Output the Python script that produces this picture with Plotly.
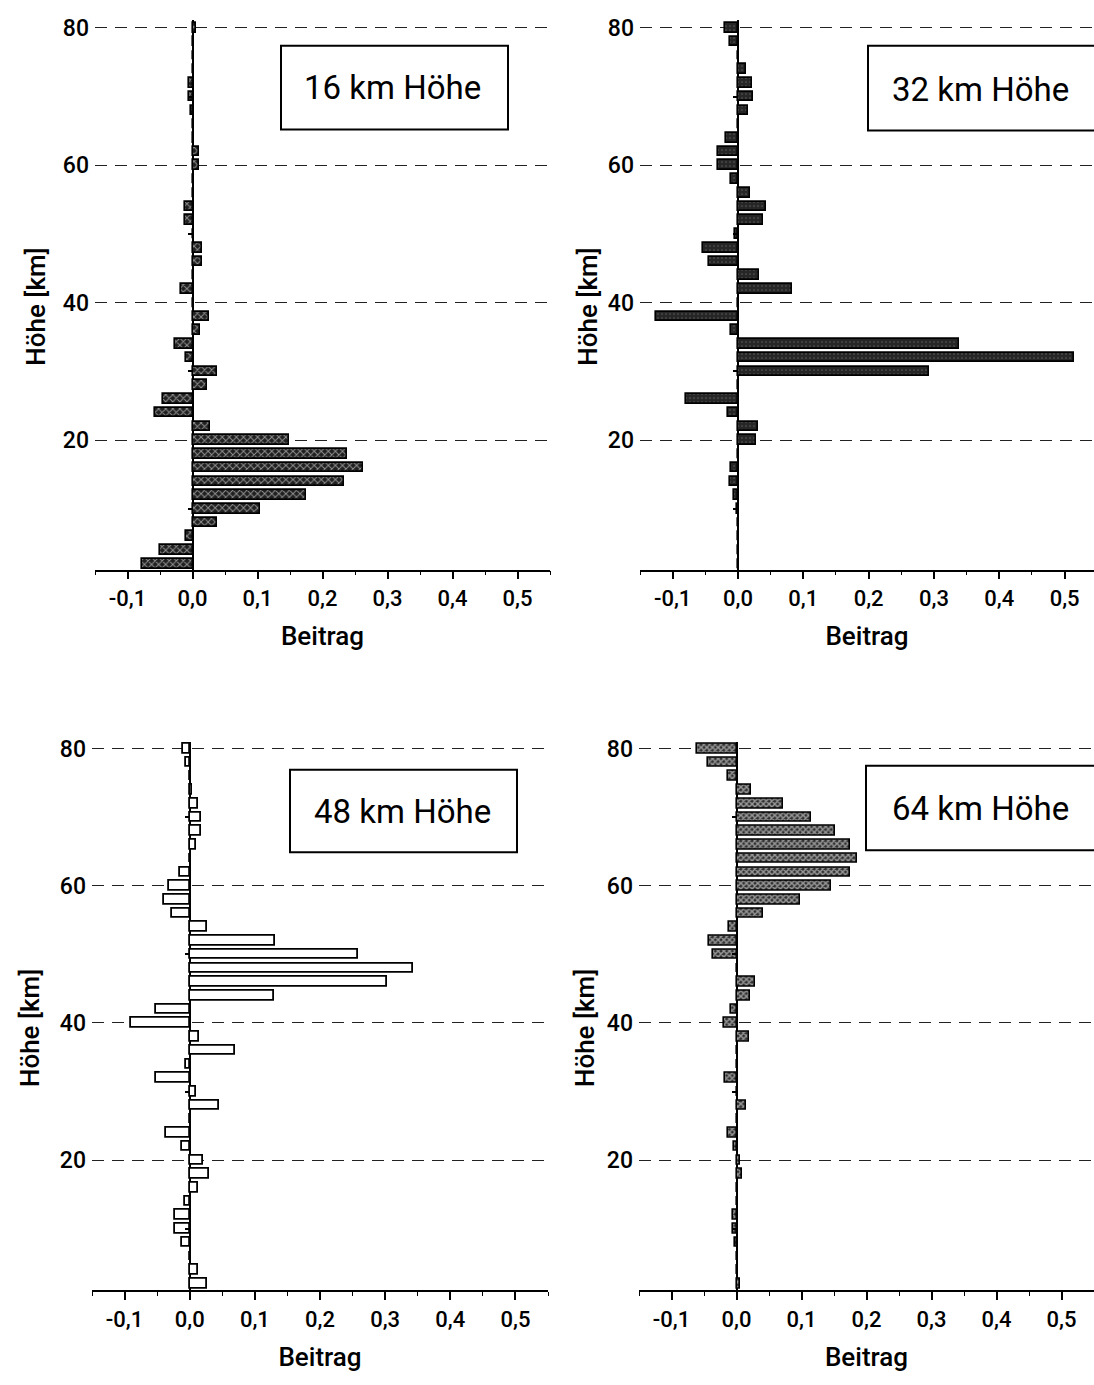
import plotly.graph_objects as go

heights_km = [2, 4, 6, 8, 10, 12, 14, 16, 18, 20, 22, 24, 26, 28, 30, 32, 34, 36, 38, 40,
              42, 44, 46, 48, 50, 52, 54, 56, 58, 60, 62, 64, 66, 68, 70, 72, 74, 76, 78, 80]

beitrag_16km = [-0.078, -0.050, -0.010, 0.038, 0.104, 0.174, 0.233, 0.262, 0.237, 0.149,
                0.027, -0.057, -0.046, 0.023, 0.038, -0.010, -0.027, 0.011, 0.026, 0.0,
                -0.018, 0.0, 0.014, 0.015, 0.0, -0.011, -0.011, 0.0, 0.0, 0.010,
                0.010, 0.003, 0.0, -0.003, -0.005, -0.005, 0.0, 0.0, 0.002, 0.005]

beitrag_32km = [0.0, 0.0, 0.0, 0.0, -0.002, -0.006, -0.012, -0.010, 0.0, 0.027,
                0.030, -0.015, -0.080, 0.0, 0.293, 0.514, 0.339, -0.011, -0.125, 0.0,
                0.083, 0.032, -0.044, -0.054, -0.004, 0.038, 0.043, 0.018, -0.010, -0.030,
                -0.030, -0.018, 0.0, 0.015, 0.023, 0.021, 0.012, 0.0, -0.012, -0.020]

beitrag_48km = [0.026, 0.013, 0.0, -0.012, -0.023, -0.022, -0.007, 0.013, 0.029, 0.021,
                -0.012, -0.036, 0.0, 0.045, 0.010, -0.051, -0.006, 0.069, 0.014, -0.090,
                -0.052, 0.130, 0.303, 0.343, 0.258, 0.131, 0.027, -0.027, -0.040, -0.032,
                -0.015, 0.0, 0.010, 0.018, 0.018, 0.013, 0.003, 0.0, -0.006, -0.011]

beitrag_64km = [0.006, 0.0, 0.0, -0.003, -0.005, -0.005, 0.0, 0.0, 0.008, 0.005,
                -0.004, -0.013, 0.0, 0.014, 0.0, -0.018, 0.0, 0.0, 0.019, -0.020,
                -0.008, 0.021, 0.028, 0.0, -0.036, -0.043, -0.012, 0.041, 0.098, 0.146,
                0.174, 0.185, 0.174, 0.151, 0.115, 0.072, 0.023, -0.013, -0.044, -0.0615]

panel_titles = ["16 km Höhe", "32 km Höhe", "48 km Höhe", "64 km Höhe"]
x_tickvals = [-0.1, 0.0, 0.1, 0.2, 0.3, 0.4, 0.5]
x_ticktext = ["-0,1", "0,0", "0,1", "0,2", "0,3", "0,4", "0,5"]
y_tickvals = [20, 40, 60, 80]
y_ticktext = ["20", "40", "60", "80"]
y_minor_tickvals = [10, 30, 50, 70]

FONT = "Roboto, Liberation Sans, Arial, sans-serif"
W, H = 1094, 1385

def px_x(p):
    return p / W

def px_y(p):
    return 1 - p / H

# panel geometry in pixels: (left, right, top, bottom), x-range, y-range
panels = [
    dict(l=95, r=550, t=14, b=566, xr=[-0.15, 0.55], yr=[1.15, 81.15]),
    dict(l=640, r=1094, t=14, b=566, xr=[-0.15, 0.545], yr=[1.15, 81.15]),
    dict(l=92, r=548, t=739, b=1290, xr=[-0.15, 0.55], yr=[1.0, 81.0]),
    dict(l=639, r=1094, t=739, b=1290, xr=[-0.15, 0.55], yr=[1.0, 81.0]),
]
ytitle_x = [36, 588, 30, 585]
series = [beitrag_16km, beitrag_32km, beitrag_48km, beitrag_64km]

markers = [
    dict(color="#2a2a2a", line=dict(color="black", width=1.6),
         pattern=dict(shape="x", bgcolor="#202020", fgcolor="#ffffff", size=5, solidity=0.35)),
    dict(color="#2a2a2a", line=dict(color="black", width=1.6),
         pattern=dict(shape=".", bgcolor="#262626", fgcolor="#8a8a8a", size=4, solidity=0.15)),
    dict(color="white", line=dict(color="black", width=1.8)),
    dict(color="#2a2a2a", line=dict(color="black", width=1.6),
         pattern=dict(shape="x", bgcolor="#303030", fgcolor="#ffffff", size=4, solidity=0.6)),
]

fig = go.Figure()
layout = dict(
    width=W, height=H, margin=dict(l=0, r=0, t=0, b=0),
    paper_bgcolor="white", plot_bgcolor="rgba(0,0,0,0)",
    showlegend=False, bargap=0,
    font=dict(family=FONT, color="black", size=22),
)
shapes = []
annotations = []

for i, (p, vals) in enumerate(zip(panels, series)):
    n = i + 1
    xa = "x" if n == 1 else f"x{n}"
    ya = "y" if n == 1 else f"y{n}"
    xkey = "xaxis" if n == 1 else f"xaxis{n}"
    ykey = "yaxis" if n == 1 else f"yaxis{n}"
    fig.add_trace(go.Bar(
        x=vals, y=heights_km, orientation="h", width=1.4,
        marker=markers[i], xaxis=xa, yaxis=ya, hoverinfo="skip"))
    xdom = [px_x(p["l"]), min(1.0, px_x(p["r"]))]
    ydom = [px_y(p["b"]), px_y(p["t"])]
    layout[xkey] = dict(
        domain=xdom, range=p["xr"], anchor=ya,
        showgrid=False, zeroline=True, zerolinecolor="black", zerolinewidth=2,
        showline=True, linecolor="black", linewidth=1.5,
        ticks="outside", ticklen=8, tickwidth=1.5, tickcolor="black",
        tickvals=x_tickvals, ticktext=x_ticktext,
        minor=dict(dtick=0.05, tick0=0, ticks="outside", ticklen=4, tickwidth=1.2, tickcolor="black"),
        tickfont=dict(size=22, family=FONT, weight=500),
        title=dict(text="Beitrag", font=dict(size=26, family=FONT, weight=500), standoff=17),
        fixedrange=True,
    )
    layout[ykey] = dict(
        domain=ydom, range=p["yr"], anchor=xa,
        showgrid=True, gridcolor="#222", gridwidth=1, griddash="12px,8px",
        zeroline=False, showline=False, ticks="",
        tickvals=y_tickvals, ticktext=y_ticktext,
        ticklabelstandoff=5,
        tickfont=dict(size=23, family=FONT, weight=500),
        title=dict(text=""), fixedrange=True,
    )
    # minor y ticks drawn on the vertical zero line
    mkey = f"yaxis{n + 4}"
    zero_paper = px_x(p["l"] + (0 - p["xr"][0]) / (p["xr"][1] - p["xr"][0]) * (p["r"] - p["l"]))
    layout[mkey] = dict(
        overlaying=ya, anchor="free", position=zero_paper, side="left",
        range=p["yr"], showgrid=False, zeroline=False, showline=False,
        ticks="outside", ticklen=5, tickwidth=1.5, tickcolor="black",
        tickvals=y_minor_tickvals, showticklabels=False, fixedrange=True,
    )
    fig.add_trace(go.Scatter(x=[None], y=[None], xaxis=xa, yaxis=f"y{n + 4}",
                             mode="markers", hoverinfo="skip"))
    # y axis title
    annotations.append(dict(
        text="Höhe [km]", xref="paper", yref="paper",
        x=px_x(ytitle_x[i]), y=px_y((p["t"] + p["b"]) / 2 + 12),
        textangle=-90, showarrow=False, font=dict(size=26, family=FONT, weight=500),
        xanchor="center", yanchor="middle"))

# label boxes
boxes = [
    dict(x0=281, x1=508, y0=40, y1=124, tx=392, ty=82),
    dict(x0=868, x1=1110, y0=40, y1=125, tx=980, ty=84),
    dict(x0=290, x1=517, y0=767, y1=850, tx=402, ty=809),
    dict(x0=866, x1=1110, y0=763, y1=848, tx=980, ty=806),
]
for b, t in zip(boxes, panel_titles):
    shapes.append(dict(type="rect", xref="paper", yref="paper",
                       x0=px_x(b["x0"]), x1=px_x(b["x1"]),
                       y0=px_y(b["y1"]), y1=px_y(b["y0"]),
                       line=dict(color="black", width=2), fillcolor="white", layer="above"))
    annotations.append(dict(text=t, xref="paper", yref="paper",
                            x=px_x(b["tx"]), y=px_y(b["ty"]), showarrow=False,
                            font=dict(size=33, family=FONT, weight=400),
                            xanchor="center", yanchor="middle"))

layout["shapes"] = shapes
layout["annotations"] = annotations
fig.update_layout(**layout)
fig.write_html("out.html")
